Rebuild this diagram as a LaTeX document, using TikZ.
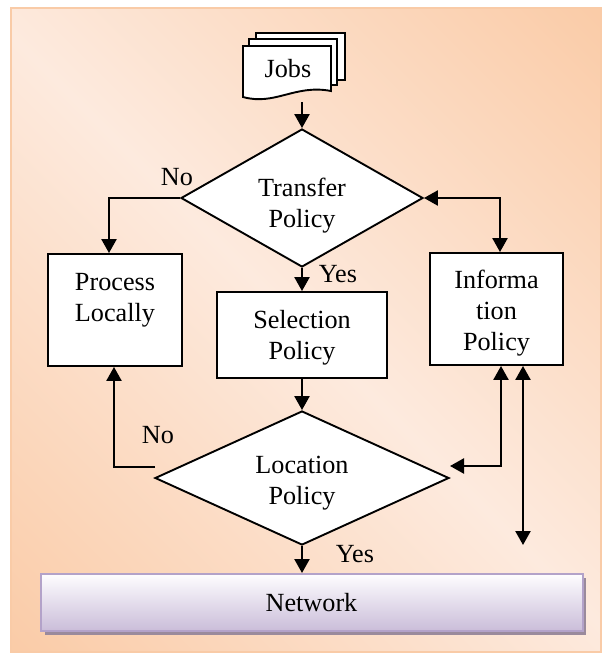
\documentclass[tikz,border=0pt]{standalone}
\usepackage{fontspec}
\setmainfont{Liberation Serif}
\usetikzlibrary{shapes.geometric,arrows.meta,calc}
\definecolor{bgOrange}{HTML}{F9BF91}
\definecolor{bgLight}{HTML}{FDEADE}
\definecolor{bgEdge}{HTML}{F9CBA7}
\definecolor{netTop}{HTML}{FEFDFF}
\definecolor{netBot}{HTML}{CABDD9}
\definecolor{netEdge}{HTML}{B3A2C9}
\definecolor{netShadow}{HTML}{9A8A9C}

% diagonal wash: orange at both far corners, pale along the middle
\pgfdeclareverticalshading{bgwash}{100bp}{color(0bp)=(bgOrange); color(50bp)=(bgLight); color(100bp)=(bgOrange)}

\begin{document}
\begin{tikzpicture}[x=1pt,y=-1pt,
  txt/.style={font=\fontsize{26.2}{31}\selectfont, align=center, inner sep=0pt},
  box/.style={draw=black, line width=1.9pt, fill=white, rectangle, inner sep=0pt},
  decision/.style={draw=black, line width=1.9pt, fill=white, diamond, inner sep=0pt},
  flow/.style={line width=2.4pt, -{Triangle[length=14pt,width=15pt]}},
  both/.style={line width=2.4pt, {Triangle[length=14pt,width=15pt]}-{Triangle[length=14pt,width=15pt]}},
  sheet/.style={draw=black, line width=1.9pt, fill=white, line join=miter}
]
\useasboundingbox (0,0) rectangle (605,654);

% background panel
\shade[shading=bgwash, shading angle=-45] (11,8) rectangle (601,652);
\draw[bgEdge, line width=2pt] (11,8) rectangle (601,652);

% stack of job documents
\draw[sheet] (256,33) rectangle (345,80);
\draw[sheet] (249,39) rectangle (337,85);
\draw[sheet] (243,46) -- (331,46) -- (331,91)
  .. controls (295,84) and (275,106) .. (243,97) -- cycle;
\node[txt] (jobs) at (288,69) {Jobs};
\coordinate (jobsOut) at (302,102);

% decisions and processes
\node[decision, minimum width=242, minimum height=138] (transfer) at (302,198) {};
\node[txt] (transferText) at (302,206) {Transfer\\Policy};

\node[box, minimum width=134, minimum height=112] (plocal) at (115,310) {};
\node[txt] (plocalText) at (115,300.5) {Process\\Locally};

\node[box, minimum width=170, minimum height=86] (select) at (302,335) {};
\node[txt] (selectText) at (302,338) {Selection\\Policy};

\node[box, minimum width=133, minimum height=112] (info) at (496.5,309) {};
\node[txt] (infoText) at (496.5,313) {Informa\\tion\\Policy};

\node[decision, minimum width=294, minimum height=134] (location) at (302,478) {};
\node[txt] (locationText) at (302,483) {Location\\Policy};

% network bar with its shadow
\fill[netShadow] (44.5,578) rectangle (586,635);
\node[draw=netEdge, line width=2pt, top color=netTop, bottom color=netBot,
  minimum width=542, minimum height=57, inner sep=0pt, txt] (network) at (311.5,602.5) {Network};

% connectors
\coordinate (noStart) at (155,467);
\coordinate (locIn) at (450,466);
\coordinate (infoNet) at (523,545);

\draw[flow] (jobsOut) -- (transfer.north);
\draw[flow] (transfer.west) -| ($(plocal.north)+(-6,0)$);
\draw[flow] (transfer.south) -- (select.north);
\draw[both] (transfer.east) -| ($(info.north)+(3.5,0)$);
\draw[flow] (select.south) -- (location.north);
\draw[flow] (noStart) -| ($(plocal.south)+(-1,0)$);
\draw[both] ($(info.south)+(4.5,0)$) |- (locIn);
\draw[both] ($(info.south)+(26.5,0)$) -- (infoNet);
\draw[flow] (location.south) -- (location.south |- network.north);

% branch labels
\node[txt] (noTop) at (177,177) {No};
\node[txt] (yesTop) at (338,274) {Yes};
\node[txt] (noBottom) at (158,435) {No};
\node[txt] (yesBottom) at (355,554) {Yes};
\end{tikzpicture}
\end{document}
